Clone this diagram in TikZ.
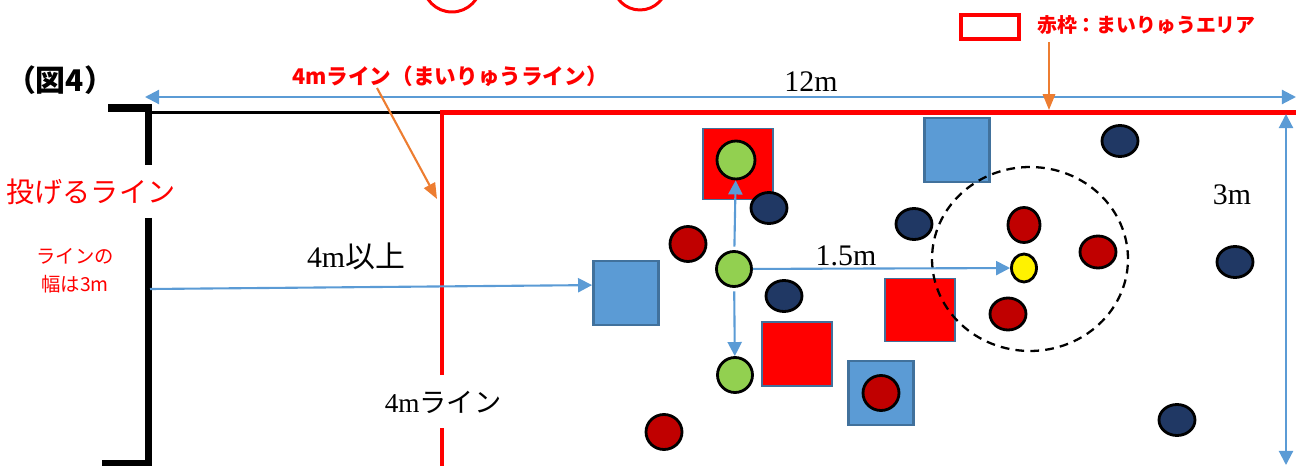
\documentclass[tikz,border=0pt]{standalone}
\usepackage{fontspec}
\setmainfont{Liberation Serif}
\newfontfamily\jp{Noto Sans CJK JP}
\usetikzlibrary{arrows.meta,shapes.geometric}
\definecolor{ppblue}{HTML}{5B9BD5}
\definecolor{ppedge}{HTML}{41719C}
\definecolor{pporange}{HTML}{ED7D31}
\definecolor{ppdark}{HTML}{C00000}
\definecolor{ppnavy}{HTML}{203864}
\definecolor{ppgreen}{HTML}{92D050}

\begin{document}
\begin{tikzpicture}[x=0.02cm, y=-0.02cm,
    ball/.style={ellipse, draw=black, line width=1.6pt, inner sep=0pt},
    navyball/.style={ball, fill=ppnavy, minimum width=0.72cm, minimum height=0.62cm},
    redball/.style={ball, fill=ppdark, minimum width=0.72cm, minimum height=0.7cm},
    greenball/.style={ball, fill=ppgreen, minimum size=0.7cm},
    bluebox/.style={draw=ppedge, fill=ppblue, line width=1.6pt, minimum width=1.3cm, minimum height=1.28cm},
    redbox/.style={draw=ppedge, fill=red, line width=1pt, minimum width=1.4cm},
    measure/.style={ppblue, line width=1.2pt, -{Triangle[length=8pt,width=8pt]}},
    callout/.style={pporange, line width=1.2pt, -{Triangle[length=9pt,width=7pt]}},
    numlabel/.style={font=\fontsize{17}{20}\selectfont, inner sep=1pt}]
  \clip (0,0) rectangle (1296,466);

  % circles cut by the top edge
  \draw[red, line width=1.7pt] (452,-17) circle [radius=0.58cm];
  \draw[red, line width=1.7pt] (640,-17) circle [radius=0.54cm];

  % titles and legend
  \node[font=\jp\bfseries\fontsize{17}{20}\selectfont] (fig) at (60,80) {（図4）};
  \node[red, font=\jp\bfseries\fontsize{12.3}{14}\selectfont] (mline) at (450,76)
    {4mライン（まいりゅうライン）};
  \node[draw=red, line width=2.3pt, minimum width=1.16cm, minimum height=0.48cm] (key) at (990,27) {};
  \node[red, anchor=west, font=\jp\bfseries\fontsize{11.3}{14}\selectfont] (keytext) at (1031,25)
    {赤枠：まいりゅうエリア};

  % throwing line
  \draw[line width=4pt] (108,108) -- (148.5,108) -- (148.5,165);
  \draw[line width=4pt] (148.5,218) -- (148.5,464) -- (102,464);
  \draw[line width=1.7pt] (148.5,112.5) -- (442,112.5);
  \node[red, font=\jp\fontsize{16}{19}\selectfont] (throw) at (91,192) {投げるライン};
  \node[red, align=center, font=\jp\fontsize{11}{16}\selectfont] (width) at (75,271)
    {ラインの\\幅は3m};

  % play area
  \draw[red, line width=2.8pt] (442,375) -- (442,112.5) -- (1296,112.5);
  \draw[red, line width=2.8pt] (442,428) -- (442,466);
  \node[numlabel, font=\fontsize{15.5}{18}\selectfont] (four) at (443,402) {4m{\jp ライン}};
  \node[numlabel] (more) at (356,256) {4m{\jp 以上}};

  % squares
  \node[bluebox] (b1) at (626,293) {};
  \node[bluebox] (b2) at (957,150) {};
  \node[bluebox] (b3) at (881,393) {};
  \node[redbox, minimum height=1.42cm] (r1) at (738,164) {};
  \node[redbox, minimum height=1.28cm] (r2) at (797,354) {};
  \node[redbox, minimum height=1.26cm] (r3) at (920,310) {};

  % target zone
  \node[ellipse, draw, dashed, line width=1.3pt, dash pattern=on 5pt off 3.5pt,
        minimum width=3.92cm, minimum height=3.68cm] (zone) at (1030,259) {};

  % balls
  \node[greenball, minimum size=0.76cm] (g2) at (736,160) {};
  \node[greenball] (g1) at (734,269) {};
  \node[greenball] (g3) at (735,375) {};
  \node[ball, fill=yellow, minimum width=0.5cm, minimum height=0.56cm] (jack) at (1024,268) {};
  \node[redball] (d1) at (688,244) {};
  \node[redball] (d2) at (664,432) {};
  \node[redball] (d3) at (881,393) {};
  \node[redball, minimum width=0.64cm] (d4) at (1024,225) {};
  \node[redball, minimum height=0.64cm] (d5) at (1098,252) {};
  \node[redball, minimum height=0.64cm] (d6) at (1008,314) {};
  \node[navyball] (n1) at (769,208) {};
  \node[navyball] (n2) at (784,296) {};
  \node[navyball] (n3) at (914,224) {};
  \node[navyball] (n4) at (1120,141) {};
  \node[navyball] (n5) at (1235,262) {};
  \node[navyball] (n6) at (1177,420) {};

  % distances
  \draw[measure, shorten <=2pt] (g1) -- (g2);
  \draw[measure, shorten <=2pt] (g1) -- (g3);
  \draw[measure] (g1) -- (jack);
  \node[numlabel] (step) at (846,256) {1.5m};
  \coordinate (start) at (150,289);
  \draw[measure] (start) -- ([yshift=4.5pt]b1.west);

  \coordinate (left) at (145,97);
  \coordinate (right) at (1296,97);
  \draw[measure, {Triangle[length=8pt,width=8pt]}-{Triangle[length=8pt,width=8pt]}] (left) -- (right);
  \node[numlabel] (twelve) at (811,82) {12m};
  \coordinate (top) at (1286,114);
  \coordinate (bottom) at (1286,465);
  \draw[measure, {Triangle[length=8pt,width=8pt]}-{Triangle[length=8pt,width=8pt]}] (top) -- (bottom);
  \node[numlabel] (three) at (1232,195) {3m};

  % pointers to the labels
  \coordinate (mfoot) at (377,88);
  \coordinate (mtip) at (437,199);
  \draw[callout] (mfoot) -- (mtip);
  \coordinate (kfoot) at (1049,42);
  \coordinate (ktip) at (1049,110);
  \draw[callout] (kfoot) -- (ktip);
\end{tikzpicture}
\end{document}
